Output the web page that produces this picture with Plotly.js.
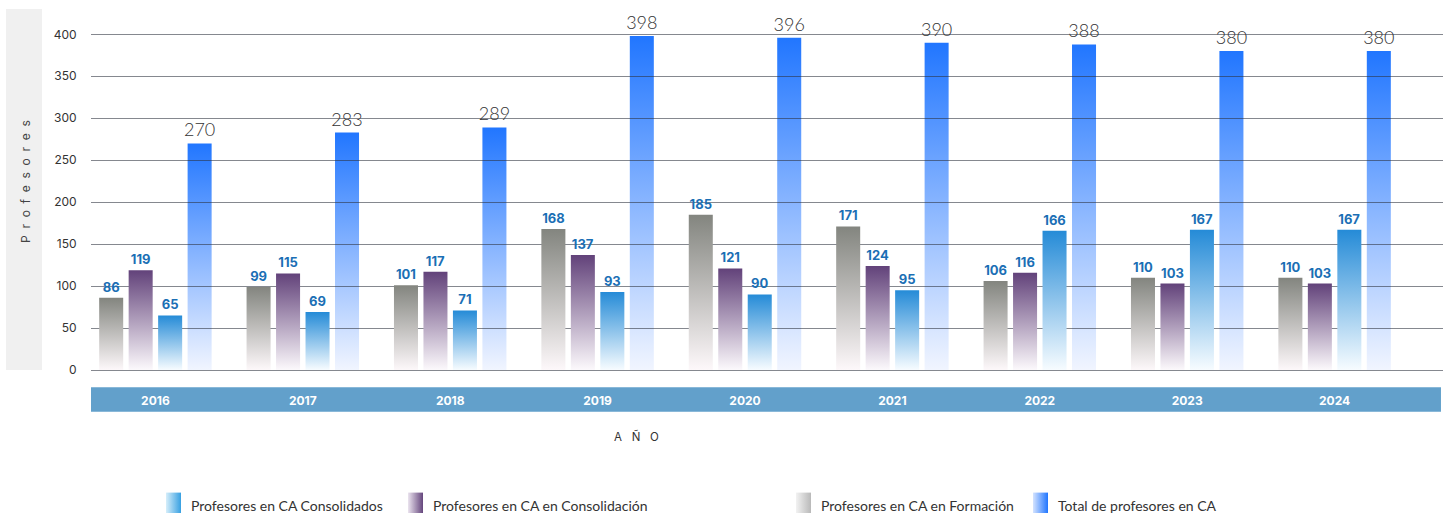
<!DOCTYPE html>
<html>
<head>
<meta charset="utf-8">
<script src="https://cdn.plot.ly/plotly-3.0.1.min.js"></script>
<style>
html,body{margin:0;padding:0;background:#ffffff;}
#chart{width:1450px;height:513px;}
</style>
</head>
<body>
<div id="chart"></div>
<script>
// ---- data ----
const years = ['2016','2017','2018','2019','2020','2021','2022','2023','2024'];
const enFormacion = [86, 99, 101, 168, 185, 171, 106, 110, 110];
const enConsolidacion = [119, 115, 117, 137, 121, 124, 116, 103, 103];
const consolidados = [65, 69, 71, 93, 90, 95, 166, 167, 167];
const totalProfesores = [270, 283, 289, 398, 396, 390, 388, 380, 380];
const yTickVals = [0, 50, 100, 150, 200, 250, 300, 350, 400];

const nameConsolidados = 'Profesores en CA Consolidados';
const nameConsolidacion = 'Profesores en CA en Consolidación';
const nameFormacion = 'Profesores en CA en Formación';
const nameTotal = 'Total de profesores en CA';

// ---- styles ----
const barW = 0.163;
const xRange = [-0.4369, 8.7354];
const yRange = [-2.38, 424.2];
const smallLabelFont = {family: 'Inter, sans-serif', size: 13, color: '#1b6fb5', weight: 700};

// gradient definitions: vertical (bars) and horizontal (legend swatches)
const gradients = {};
gradients[nameFormacion] = {id: 'gForm', v: ['#83857f', '#fdf8fa'], h: ['#f2f2f2', '#b9b9b9']};
gradients[nameConsolidacion] = {id: 'gCons', v: ['#62427a', '#fcf9fc'], h: ['#ebe4ef', '#65467d']};
gradients[nameConsolidados] = {id: 'gConsd', v: ['#258bd7', '#f7fcff'], h: ['#d6eefa', '#37a0e2']};
gradients[nameTotal] = {id: 'gTot', v: ['#2176ff', '#f1f5ff'], h: ['#d4e3ff', '#2176ff']};

const traces = [
  {
    type: 'bar', name: nameTotal, x: years, y: totalProfesores,
    xaxis: 'x', yaxis: 'y', legend: 'legend4',
    width: barW, offset: 0.2185,
    marker: {color: '#2176ff'},
    text: totalProfesores.map(String), textposition: 'outside',
    textfont: {family: 'Lato, sans-serif', size: 18, color: '#333333', weight: 300},
    constraintext: 'none', cliponaxis: false, hoverinfo: 'x+y'
  },
  {
    type: 'bar', name: nameFormacion, x: years, y: enFormacion,
    xaxis: 'x2', yaxis: 'y2', legend: 'legend3',
    width: barW, offset: -0.3815,
    marker: {color: '#83857f'},
    text: enFormacion.map(String), textposition: 'outside',
    textfont: smallLabelFont, constraintext: 'none', cliponaxis: false, hoverinfo: 'x+y'
  },
  {
    type: 'bar', name: nameConsolidacion, x: years, y: enConsolidacion,
    xaxis: 'x2', yaxis: 'y2', legend: 'legend2',
    width: barW, offset: -0.1815,
    marker: {color: '#62427a'},
    text: enConsolidacion.map(String), textposition: 'outside',
    textfont: smallLabelFont, constraintext: 'none', cliponaxis: false, hoverinfo: 'x+y'
  },
  {
    type: 'bar', name: nameConsolidados, x: years, y: consolidados,
    xaxis: 'x2', yaxis: 'y2', legend: 'legend',
    width: barW, offset: 0.0185,
    marker: {color: '#258bd7'},
    text: consolidados.map(String), textposition: 'outside',
    textfont: smallLabelFont, constraintext: 'none', cliponaxis: false, hoverinfo: 'x+y'
  }
];

function legendAt(x) {
  return {
    x: x, y: -0.3743, xanchor: 'left', yanchor: 'middle', orientation: 'h',
    bgcolor: 'rgba(0,0,0,0)', borderwidth: 0,
    font: {family: 'Lato, sans-serif', size: 14, color: '#333333'}
  };
}

const layout = {
  width: 1450, height: 513,
  margin: {l: 91, r: 7, t: 14, b: 141, autoexpand: false},
  paper_bgcolor: '#ffffff', plot_bgcolor: 'rgba(0,0,0,0)',
  barmode: 'overlay',
  showlegend: true,
  font: {family: 'Inter, sans-serif', color: '#333333'},
  xaxis: {
    domain: [0, 1], anchor: 'y', type: 'category', range: xRange,
    showticklabels: false, showgrid: false, zeroline: false, showline: false, ticks: ''
  },
  yaxis: {
    domain: [0, 1], anchor: 'x', range: yRange,
    showticklabels: false, showgrid: false, ticks: '', zeroline: false
  },
  xaxis2: {
    domain: [0, 1], anchor: 'y2', type: 'category', range: xRange,
    showgrid: false, zeroline: false, showline: false,
    ticks: 'outside', ticklen: 18, tickcolor: 'rgba(0,0,0,0)',
    tickfont: {family: 'Inter, sans-serif', size: 12, color: '#ffffff', weight: 700}
  },
  yaxis2: {
    domain: [0, 1], anchor: 'x2', range: yRange,
    tickmode: 'array', tickvals: yTickVals,
    showgrid: true, gridcolor: 'rgba(45,50,62,0.58)', gridwidth: 1,
    zeroline: false, showline: false,
    ticks: 'outside', ticklen: 11, tickcolor: 'rgba(0,0,0,0)',
    tickfont: {family: 'Inter, sans-serif', size: 12, color: '#333333'}
  },
  legend: legendAt(0.04438),
  legend2: legendAt(0.22337),
  legend3: legendAt(0.51036),
  legend4: legendAt(0.68565),
  shapes: [
    {type: 'rect', xref: 'paper', yref: 'paper', x0: -0.06287, x1: -0.03624, y0: 0.0056, y1: 1.014,
     fillcolor: '#f0f0f0', line: {width: 0}, layer: 'below'},
    {type: 'rect', xref: 'paper', yref: 'paper', x0: 0, x1: 0.9985, y0: -0.1109, y1: -0.0427,
     fillcolor: '#62a0cb', line: {width: 0}, layer: 'below'}
  ],
  annotations: [
    {text: 'P\u00a0\u00a0r\u00a0\u00a0o\u00a0\u00a0f\u00a0\u00a0e\u00a0\u00a0s\u00a0\u00a0o\u00a0\u00a0r\u00a0\u00a0e\u00a0\u00a0s',
     xref: 'paper', yref: 'paper', x: -0.0488, y: 0.5307, xanchor: 'center', yanchor: 'middle',
     textangle: -90, showarrow: false, font: {family: 'Inter, sans-serif', size: 12, color: '#444444'}},
    {text: 'A\u00a0\u00a0\u00a0Ñ\u00a0\u00a0\u00a0O',
     xref: 'paper', yref: 'paper', x: 0.4035, y: -0.1788, xanchor: 'center', yanchor: 'middle',
     showarrow: false, font: {family: 'Inter, sans-serif', size: 11.5, color: '#333333'}}
  ]
};

const NS = 'http://www.w3.org/2000/svg';
function makeGrad(defs, id, c0, c1, horizontal) {
  const g = document.createElementNS(NS, 'linearGradient');
  g.setAttribute('id', id);
  g.setAttribute('x1', '0'); g.setAttribute('y1', '0');
  g.setAttribute('x2', horizontal ? '1' : '0'); g.setAttribute('y2', horizontal ? '0' : '1');
  [[0, c0], [1, c1]].forEach(function (s) {
    const st = document.createElementNS(NS, 'stop');
    st.setAttribute('offset', String(s[0]));
    st.setAttribute('stop-color', s[1]);
    g.appendChild(st);
  });
  defs.appendChild(g);
}

function applyGradients(gd) {
  const svg = gd.querySelector('svg.main-svg');
  if (!svg) return;
  if (!document.getElementById('customGradDefs')) {
    const defs = document.createElementNS(NS, 'defs');
    defs.setAttribute('id', 'customGradDefs');
    svg.insertBefore(defs, svg.firstChild);
    Object.keys(gradients).forEach(function (k) {
      const gr = gradients[k];
      makeGrad(defs, gr.id + 'V', gr.v[0], gr.v[1], false);
      makeGrad(defs, gr.id + 'H', gr.h[0], gr.h[1], true);
    });
  }
  gd.querySelectorAll('.barlayer .trace').forEach(function (g) {
    const cd = g.__data__;
    const tr = cd && cd[0] && cd[0].trace;
    if (!tr || !gradients[tr.name]) return;
    g.querySelectorAll('path').forEach(function (p) {
      p.style.fill = 'url(#' + gradients[tr.name].id + 'V)';
    });
  });
  gd.querySelectorAll('.legendpoints path').forEach(function (p) {
    const d = p.__data__;
    const tr = d && d[0] && d[0].trace;
    if (!tr || !gradients[tr.name]) return;
    p.setAttribute('d', 'M-5,-13H10V16H-5Z');
    p.style.fill = 'url(#' + gradients[tr.name].id + 'H)';
    p.style.stroke = 'none';
  });
}

Plotly.newPlot('chart', traces, layout, {displayModeBar: false, staticPlot: true}).then(function (gd) {
  applyGradients(gd);
  gd.on('plotly_afterplot', function () { applyGradients(gd); });
});
</script>
</body>
</html>
